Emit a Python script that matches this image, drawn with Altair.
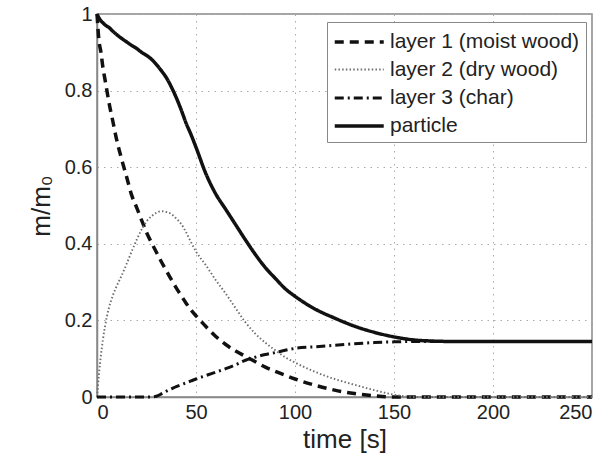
import altair as alt
import pandas as pd

# ---- data ----
time_s = [0, 1, 2, 3, 4, 5, 6, 8, 10, 12.5, 15, 17.5, 20, 22.5, 25, 27.5, 30, 32.5,
          35, 37.5, 40, 42.5, 45, 47.5, 50, 55, 60, 65, 70, 75, 80, 85, 90, 95, 100,
          110, 120, 130, 140, 150, 160, 170, 180, 190, 200, 225, 250]

layer1 = [1.0, 0.93, 0.90, 0.86, 0.83, 0.80, 0.77, 0.72, 0.67, 0.62, 0.574, 0.527,
          0.495, 0.462, 0.43, 0.403, 0.378, 0.353, 0.33, 0.307, 0.285, 0.265, 0.245,
          0.227, 0.212, 0.184, 0.158, 0.137, 0.12, 0.106, 0.092, 0.078, 0.067, 0.057,
          0.047, 0.031, 0.018, 0.009, 0.003, 0.0, 0.0, 0.0, 0.0, 0.0, 0.0, 0.0, 0.0]

layer2 = [0.0, 0.06, 0.11, 0.15, 0.183, 0.21, 0.232, 0.265, 0.29, 0.318, 0.348, 0.38,
          0.41, 0.437, 0.458, 0.472, 0.481, 0.485, 0.483, 0.478, 0.466, 0.452, 0.43,
          0.404, 0.38, 0.344, 0.305, 0.27, 0.232, 0.195, 0.165, 0.142, 0.122, 0.104,
          0.09, 0.066, 0.047, 0.032, 0.018, 0.006, 0.0, 0.0, 0.0, 0.0, 0.0, 0.0, 0.0]

layer3 = [0.0, 0.0, 0.0, 0.0, 0.0, 0.0, 0.0, 0.0, 0.0, 0.0, 0.0, 0.0, 0.0, 0.0, 0.0,
          0.0, 0.002, 0.008, 0.015, 0.021, 0.027, 0.032, 0.037, 0.042, 0.047, 0.056,
          0.065, 0.074, 0.084, 0.096, 0.104, 0.111, 0.116, 0.122, 0.127, 0.131, 0.135,
          0.139, 0.142, 0.144, 0.145, 0.145, 0.145, 0.145, 0.145, 0.145, 0.145]

particle = [1.0, 0.99, 0.982, 0.977, 0.972, 0.968, 0.965, 0.955, 0.946, 0.936, 0.927,
            0.918, 0.91, 0.90, 0.892, 0.882, 0.868, 0.852, 0.834, 0.81, 0.782, 0.75,
            0.715, 0.685, 0.652, 0.583, 0.53, 0.49, 0.45, 0.41, 0.372, 0.338, 0.31,
            0.283, 0.263, 0.23, 0.206, 0.185, 0.169, 0.157, 0.149, 0.146, 0.145, 0.145,
            0.145, 0.145, 0.145]

series_names = ["layer 1 (moist wood)", "layer 2 (dry wood)", "layer 3 (char)", "particle"]
series_colors = ["#111111", "#6e6e6e", "#111111", "#111111"]
series_dashes = [[9, 6], [1.5, 2.2], [9, 4, 2, 4], [1, 0]]
series_widths = [3.5, 1.9, 3.0, 3.5]

x_ticks = [0, 50, 100, 150, 200, 250]
y_ticks = [0, 0.2, 0.4, 0.6, 0.8, 1.0]

rows = []
for name, vals in zip(series_names, [layer1, layer2, layer3, particle]):
    for t, v in zip(time_s, vals):
        rows.append({"time": t, "m": v, "series": name})
df = pd.DataFrame(rows)

FONT = "Liberation Sans"

legend = alt.Legend(title=None, orient="none", legendX=230, legendY=8)

chart = alt.Chart(df).mark_line(interpolate="monotone", strokeCap="butt").encode(
    x=alt.X("time:Q",
            scale=alt.Scale(domain=[0, 250], nice=False),
            axis=alt.Axis(values=x_ticks, title="time [s]", format="d")),
    y=alt.Y("m:Q",
            scale=alt.Scale(domain=[0, 1], nice=False),
            axis=alt.Axis(values=y_ticks, title="m/m₀", format=".1~f")),
    color=alt.Color("series:N",
                    scale=alt.Scale(domain=series_names, range=series_colors),
                    legend=legend),
    strokeDash=alt.StrokeDash("series:N",
                              scale=alt.Scale(domain=series_names, range=series_dashes),
                              legend=legend),
    strokeWidth=alt.StrokeWidth("series:N",
                                scale=alt.Scale(type="ordinal", domain=series_names, range=series_widths),
                                legend=legend),
).properties(
    width=495,
    height=383,
    autosize=alt.AutoSizeParams(type="none"),
    padding={"left": 97, "top": 14, "right": 18, "bottom": 64},
).configure_view(
    stroke="#888888", strokeWidth=1.5
).configure_axis(
    labelFont=FONT, titleFont=FONT, labelFontSize=20, titleFontSize=26,
    labelColor="#222222", titleColor="#222222", titleFontWeight="normal",
    grid=True, gridColor="#aaaaaa", gridDash=[1.5, 5], gridWidth=1,
    domainColor="#888888", domainWidth=1.5, tickSize=0, labelPadding=5,
).configure_axisX(
    titlePadding=4,
).configure_axisY(
    titlePadding=10,
).configure_legend(
    labelFont=FONT, labelFontSize=21, labelColor="#222222",
    symbolType="M-1,0H3", symbolSize=600, labelOffset=29,
    strokeColor="#888888", fillColor="white", padding=6, rowPadding=4,
    cornerRadius=0, labelLimit=400,
)

chart.save("out.html", embed_options={"renderer": "svg", "actions": False})
